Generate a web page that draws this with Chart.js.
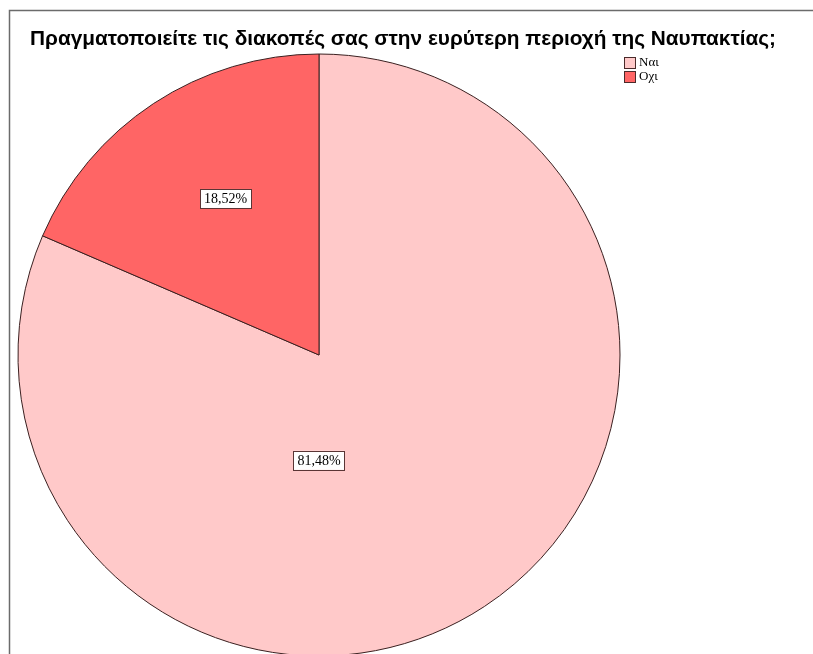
<!DOCTYPE html>
<html>
<head>
<meta charset="utf-8">
<script src="https://cdn.jsdelivr.net/npm/chart.js@4"></script>
<style>
  html, body { margin: 0; padding: 0; background: #fff; }
  canvas { display: block; }
</style>
</head>
<body>
<canvas id="pieChart" width="813" height="654"></canvas>
<script>
// data
const titleText = "Πραγματοποιείτε τις διακοπές σας στην ευρύτερη περιοχή της Ναυπακτίας;";
const categories = ["Ναι", "Οχι"];
const percents = [81.48, 18.52];
const colors = ["#FFC9C9", "#FF6565"];
// where the value box sits, as share of radius (x, y) from the centre
const labelOffsets = [[0, 0.35], [-0.31, -0.52]];

function fmt(v) {
  return v.toFixed(2).replace(".", ",") + "%";
}

// frame, title, legend and value boxes drawn on top
const decorations = {
  id: "decorations",
  afterDraw(chart) {
    const ctx = chart.ctx;
    ctx.save();

    // frame (top + left lines)
    ctx.strokeStyle = "#6b6b6b";
    ctx.lineWidth = 1.5;
    ctx.beginPath();
    ctx.moveTo(9.5, 654);
    ctx.lineTo(9.5, 10.5);
    ctx.lineTo(813, 10.5);
    ctx.stroke();

    // title, sized to span roughly x 30..777 like the original
    ctx.fillStyle = "#000";
    let size = 16;
    ctx.font = "bold " + size + "px 'Liberation Sans', Arial, sans-serif";
    const tw = ctx.measureText(titleText).width;
    size = Math.min(22, size * 747 / tw);
    ctx.font = "bold " + size.toFixed(1) + "px 'Liberation Sans', Arial, sans-serif";
    ctx.textAlign = "center";
    ctx.textBaseline = "middle";
    ctx.fillText(titleText, 403, 39);

    // legend
    ctx.font = "13px 'Liberation Serif', 'Times New Roman', serif";
    ctx.textAlign = "left";
    categories.forEach((c, i) => {
      const y = 57 + i * 14;
      ctx.fillStyle = colors[i];
      ctx.fillRect(624, y, 11, 11);
      ctx.strokeStyle = "#4a2a2a";
      ctx.lineWidth = 1;
      ctx.strokeRect(624.5, y + 0.5, 11, 11);
      ctx.fillStyle = "#000";
      ctx.fillText(c, 639, y + 6);
    });

    // value boxes
    const meta = chart.getDatasetMeta(0);
    ctx.font = "14px 'Liberation Serif', 'Times New Roman', serif";
    ctx.textAlign = "center";
    meta.data.forEach((arc, i) => {
      const r = arc.outerRadius;
      const x = arc.x + labelOffsets[i][0] * r;
      const y = arc.y + labelOffsets[i][1] * r;
      const txt = fmt(percents[i]);
      const w = ctx.measureText(txt).width + 8;
      const h = 19;
      ctx.fillStyle = "#fff";
      ctx.fillRect(x - w / 2, y - h / 2, w, h);
      ctx.strokeStyle = "#5a3535";
      ctx.lineWidth = 1;
      ctx.strokeRect(Math.round(x - w / 2) + 0.5, Math.round(y - h / 2) + 0.5, Math.round(w), h);
      ctx.fillStyle = "#000";
      ctx.fillText(txt, x, y + 1);
    });

    ctx.restore();
  }
};

new Chart(document.getElementById("pieChart"), {
  type: "pie",
  data: {
    labels: categories,
    datasets: [{
      data: percents,
      backgroundColor: colors,
      borderColor: "#3a2020",
      borderWidth: 1,
      radius: 301
    }]
  },
  options: {
    responsive: false,
    animation: false,
    layout: {
      padding: { left: 18, right: 193, top: 56, bottom: 0 }
    },
    plugins: {
      legend: { display: false },
      title: { display: false },
      tooltip: { enabled: false }
    }
  },
  plugins: [decorations]
});
</script>
</body>
</html>
